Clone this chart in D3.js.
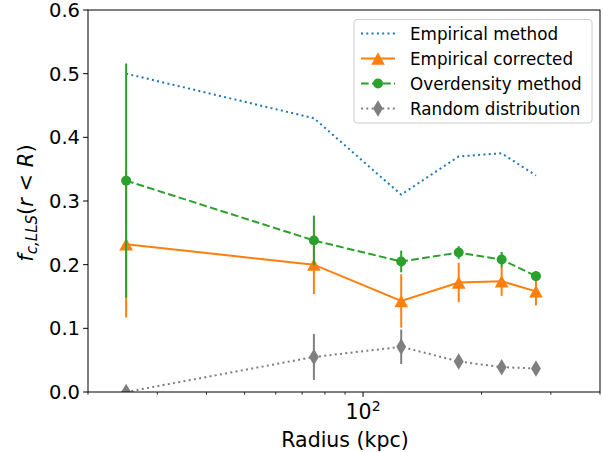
<!DOCTYPE html>
<html><head><meta charset="utf-8">
<script src="https://cdn.jsdelivr.net/npm/d3@7"></script>
<style>body{margin:0;background:#fff}svg{display:block;font-family:"DejaVu Sans",sans-serif}</style>
</head><body><svg id="c" width="603" height="452"></svg>
<script>
const radius = [25, 75, 125, 175, 225, 275];
const empirical = [0.50, 0.43, 0.31, 0.37, 0.375, 0.34];
const corrected = [0.232, 0.20, 0.143, 0.172, 0.174, 0.158];
const correctedErr = [0.115, 0.046, 0.042, 0.031, 0.023, 0.022];
const overdensity = [0.332, 0.238, 0.205, 0.219, 0.208, 0.182];
const overdensityErr = [0.184, 0.039, 0.017, 0.010, 0.012, 0.008];
const randomDist = [0.0, 0.055, 0.071, 0.048, 0.039, 0.037];
const randomErr = [0.0, 0.036, 0.027, 0.008, 0.006, 0.005];
const yTicks = [0.0, 0.1, 0.2, 0.3, 0.4, 0.5, 0.6];
const xMajor = [100];
const xMinor = [20, 30, 40, 50, 60, 70, 80, 90, 200, 300, 400];
const legendLabels = ["Empirical method", "Empirical corrected", "Overdensity method", "Random distribution"];

const L = 88, R = 600, T = 10, B = 392;
const svg = d3.select("#c");
const x = d3.scaleLog().domain([20, 400]).range([L, R]);
const y = d3.scaleLinear().domain([0, 0.6]).range([B, T]);

svg.append("defs").append("clipPath").attr("id", "clip")
  .append("rect").attr("x", L).attr("y", T).attr("width", R - L).attr("height", B - T);
const plot = svg.append("g").attr("clip-path", "url(#clip)");

const C = {blue: "#1f77b4", orange: "#ff7f0e", green: "#2ca02c", gray: "#7f7f7f"};
const lw = 2;
const dotted = "2,3.3", dashed = "7.7,3.3";

function sym(type, size) {
  if (type === "o") return d3.symbol().type(d3.symbolCircle).size(Math.PI * size * size / 4)();
  if (type === "^") { const h = size * 0.95, w = size * 1.05; return `M0,${-h/2}L${w/2},${h/2}L${-w/2},${h/2}Z`; }
  if (type === "d") { const h = size * 1.5, w = size * 0.9; return `M0,${-h/2}L${w/2},0L0,${h/2}L${-w/2},0Z`; }
}

const data = i => radius.map((r, k) => ({r, v: i[k]}));
const line = d3.line().x(d => x(d.r)).y(d => y(d.v));

plot.append("path").datum(data(empirical)).attr("d", line).attr("fill", "none")
  .attr("stroke", C.blue).attr("stroke-width", lw).attr("stroke-dasharray", dotted);

function errSeries(vals, errs, color, dash, mk, msize) {
  const g = plot.append("g");
  g.append("path").datum(data(vals)).attr("d", line).attr("fill", "none")
    .attr("stroke", color).attr("stroke-width", lw).attr("stroke-dasharray", dash);
  g.selectAll("line.e").data(radius.map((r, k) => ({r, v: vals[k], e: errs[k]}))).join("line")
    .attr("x1", d => x(d.r)).attr("x2", d => x(d.r))
    .attr("y1", d => y(d.v - d.e)).attr("y2", d => y(d.v + d.e))
    .attr("stroke", color).attr("stroke-width", lw);
  g.selectAll("path.m").data(data(vals)).join("path")
    .attr("d", sym(mk, msize)).attr("transform", d => `translate(${x(d.r)},${y(d.v)})`)
    .attr("fill", color);
}
errSeries(corrected, correctedErr, C.orange, null, "^", 13);
errSeries(overdensity, overdensityErr, C.green, dashed, "o", 10);
errSeries(randomDist, randomErr, C.gray, dotted, "d", 11);

const ax = svg.append("g").attr("stroke", "#000").attr("stroke-width", 1);
ax.append("rect").attr("x", L).attr("y", T).attr("width", R - L).attr("height", B - T).attr("fill", "none");

const yt = svg.append("g");
yt.selectAll("line").data(yTicks).join("line")
  .attr("x1", L - 4.9).attr("x2", L).attr("y1", d => y(d)).attr("y2", d => y(d))
  .attr("stroke", "#000").attr("stroke-width", 1);
yt.selectAll("text").data(yTicks).join("text")
  .attr("x", L - 8).attr("y", d => y(d)).attr("dy", "0.36em").attr("text-anchor", "end")
  .attr("font-size", 19.5).text(d => d.toFixed(1));

const xt = svg.append("g");
xt.selectAll("line.mi").data(xMinor).join("line")
  .attr("x1", d => x(d)).attr("x2", d => x(d)).attr("y1", B).attr("y2", B + 2.8)
  .attr("stroke", "#000").attr("stroke-width", 0.8);
xt.selectAll("line.ma").data(xMajor).join("line")
  .attr("x1", d => x(d)).attr("x2", d => x(d)).attr("y1", B).attr("y2", B + 4.9)
  .attr("stroke", "#000").attr("stroke-width", 1);
xMajor.forEach(v => {
  const t = xt.append("text").attr("x", x(v)).attr("y", B + 27).attr("text-anchor", "middle").attr("font-size", 20.5);
  t.append("tspan").text("10");
  t.append("tspan").attr("font-size", 14).attr("dy", -8.5).text(String(Math.round(Math.log10(v))));
});

svg.append("text").attr("x", (L + R) / 2 + 1).attr("y", 447).attr("text-anchor", "middle")
  .attr("font-size", 20.5).text("Radius (kpc)");
const yl = svg.append("text").attr("transform", "translate(33,203) rotate(-90)")
  .attr("text-anchor", "middle").attr("font-size", 21);
yl.append("tspan").attr("font-style", "italic").text("f");
yl.append("tspan").attr("font-style", "italic").attr("font-size", 15).attr("dy", 4).text("c,LLS");
yl.append("tspan").attr("dy", -4).text("(");
yl.append("tspan").attr("font-style", "italic").text("r");
yl.append("tspan").text(" < ");
yl.append("tspan").attr("font-style", "italic").text("R");
yl.append("tspan").text(")");

const lg = svg.append("g");
lg.append("rect").attr("x", 354).attr("y", 19.5).attr("width", 238).attr("height", 103.5).attr("rx", 3)
  .attr("fill", "#fff").attr("fill-opacity", 0.8).attr("stroke", "#cccccc").attr("stroke-width", 1);
const legendStyles = [
  {c: C.blue, dash: dotted, mk: null},
  {c: C.orange, dash: null, mk: "^", s: 13},
  {c: C.green, dash: dashed, mk: "o", s: 10},
  {c: C.gray, dash: dotted, mk: "d", s: 11}
];
legendLabels.forEach((lab, i) => {
  const cy = 33.5 + i * 25, st = legendStyles[i];
  lg.append("line").attr("x1", 361).attr("x2", 395).attr("y1", cy).attr("y2", cy)
    .attr("stroke", st.c).attr("stroke-width", lw).attr("stroke-dasharray", st.dash);
  if (st.mk) lg.append("path").attr("d", sym(st.mk, st.s)).attr("transform", `translate(378,${cy})`).attr("fill", st.c);
  lg.append("text").attr("x", 410).attr("y", cy).attr("dy", "0.36em").attr("font-size", 16.8).text(lab);
});
</script></body></html>
